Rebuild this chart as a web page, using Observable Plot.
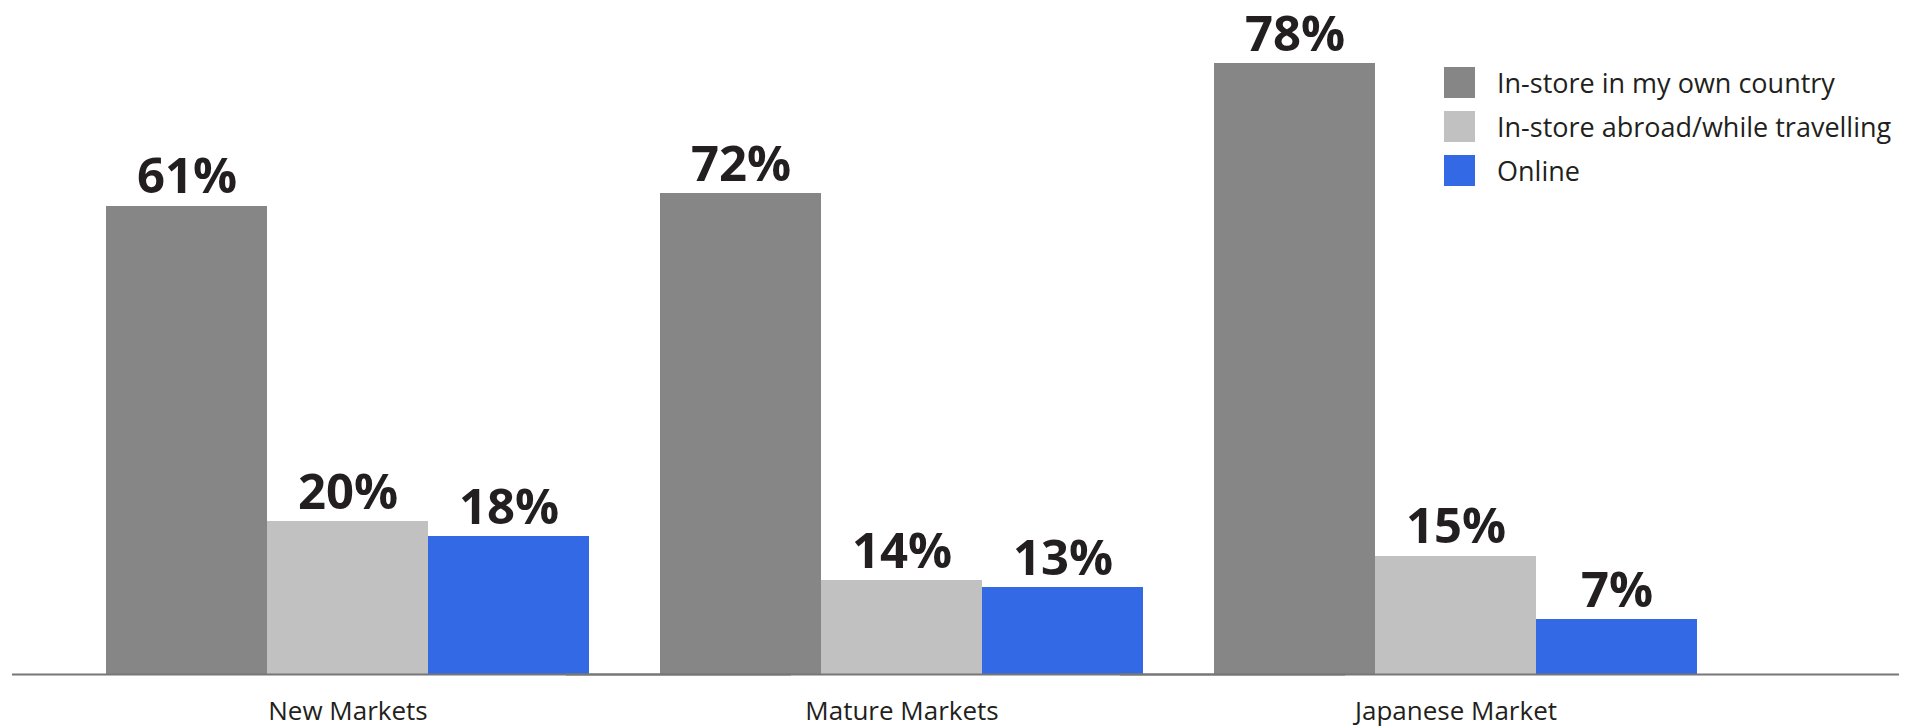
<!DOCTYPE html>
<html><head><meta charset="utf-8">
<script src="https://cdn.jsdelivr.net/npm/d3@7"></script>
<script src="https://cdn.jsdelivr.net/npm/@observablehq/plot@0.6"></script>
<style>
html,body{margin:0;padding:0;background:#fff;}
#wrap{position:relative;width:1908px;height:728px;overflow:hidden;}
#legend{position:absolute;left:1444px;top:64px;width:460px;}
.lg-swatches{margin:0;font-family:'Open Sans',sans-serif;font-size:27px;color:#231f20;}
.lg-swatch{padding-bottom:7px;line-height:37px;margin:0;overflow:visible;}
.lg-swatch > svg{margin-right:22px;}
.lg-swatch, .lg-swatch *{overflow:visible !important;text-overflow:clip !important;}
</style></head>
<body><div id="wrap"><div id="legend"></div></div>
<script>
const markets = ["New Markets", "Mature Markets", "Japanese Market"];
const series = ["In-store in my own country", "In-store abroad/while travelling", "Online"];
const seriesColors = ["#868686", "#c1c1c1", "#3469e6"];

// Printed percentages
const ownCountry = [61, 72, 78];
const abroad = [20, 14, 15];
const online = [18, 13, 7];

// Bar heights as drawn in the picture (each group uses its own scale there)
const ownCountryDrawn = [59.8, 61.4, 78];
const abroadDrawn = [19.5, 12.0, 15.1];
const onlineDrawn = [17.6, 11.1, 7.0];

const printed = [ownCountry, abroad, online];
const drawn = [ownCountryDrawn, abroadDrawn, onlineDrawn];
const rows = [];
markets.forEach((m, i) => series.forEach((s, j) => rows.push({market: m, series: s, value: printed[j][i], drawn: drawn[j][i]})));

const chart = Plot.plot({
  width: 1908, height: 728,
  marginTop: 63, marginBottom: 54, marginLeft: 12, marginRight: 9,
  style: {fontFamily: "'Open Sans', sans-serif", background: "#fff", color: "#231f20"},
  fx: {domain: markets, paddingInner: 0.125, paddingOuter: 0.265, align: 0.316, label: null},
  x: {domain: series, padding: 0, axis: null},
  y: {domain: [0, 78], axis: null},
  color: {domain: series, range: seriesColors},
  marks: [
    Plot.barY(rows, {fx: "market", x: "series", y: "drawn", fill: "series", shapeRendering: "crispEdges"}),
    Plot.text(rows, {fx: "market", x: "series", y: "drawn", text: d => d.value + "%", dy: -13, lineAnchor: "bottom", fontSize: 49, fontWeight: 700, fill: "#231f20"}),
    Plot.ruleY(markets.map(m => ({market: m, v: 0})), {fx: "market", y: "v", stroke: "#777", strokeWidth: 2, insetLeft: -93, insetRight: -201, clip: false}),
    Plot.axisFx({anchor: "bottom", tickSize: 0, tickPadding: 27, fontSize: 26, fill: "#231f20", label: null})
  ]
});
document.getElementById("wrap").insertBefore(chart, document.getElementById("legend"));

const leg = Plot.legend({
  color: {type: "ordinal", domain: series, range: seriesColors},
  legend: "swatches", columns: 1, swatchSize: 31, className: "lg"
});
document.getElementById("legend").appendChild(leg);
</script>
</body></html>
